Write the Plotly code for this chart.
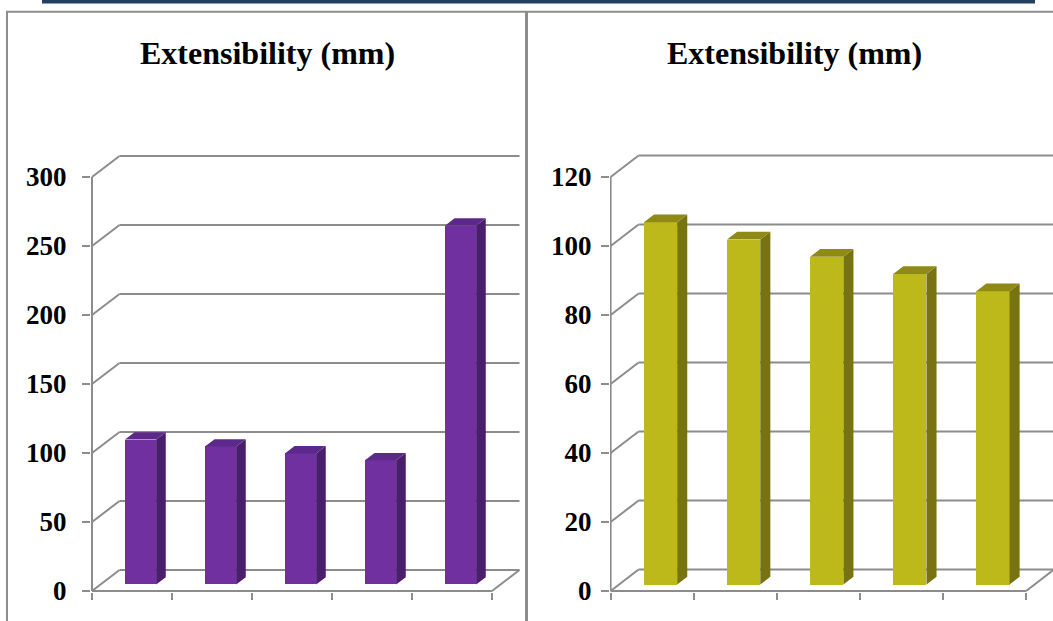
import plotly.graph_objects as go

# ---------------- data ----------------
categories = ["1", "2", "3", "4", "5"]
left_values = [105, 100, 95, 90, 260]
right_values = [105, 100, 95, 90, 85]
left_ticks = [0, 50, 100, 150, 200, 250, 300]
right_ticks = [0, 20, 40, 60, 80, 100, 120]
title_text = "Extensibility (mm)"

FW, FH = 1053, 621
GRID = "#8C8C8C"
SERIF = "Liberation Serif"

panels = [
    dict(values=left_values, ticks=left_ticks, x0=92.0, W=80.0, y0=591.0, S=1.38,
         DX=27.5, DY=21.0, dom=(91, 522), face="#7030A0", side="#4B1E6C", top="#5C2889",
         xa="x", ya="y", title_x=267, gap=10, d1=0.31, d2=0.66, bw=0.39),
    dict(values=right_values, ticks=right_ticks, x0=610.6, W=83.1, y0=591.0, S=3.45,
         DX=28.0, DY=21.5, dom=(610, 1053), face="#BEB91B", side="#777312", top="#8E8A15",
         xa="x2", ya="y2", title_x=794.5, gap=4, d1=0.30, d2=0.66, bw=0.40),
]

TOP_PX, BOT_PX = 150, 592

fig = go.Figure()
shapes = []
annotations = []
layout_axes = {}

for k, p in enumerate(panels):
    n = len(categories)
    dc = p["DX"] / p["W"]
    dv = p["DY"] / p["S"]
    xa, ya = p["xa"], p["ya"]
    line = dict(color=GRID, width=2)

    # back wall grid lines and side wall diagonals at every tick
    for v in p["ticks"]:
        shapes.append(dict(type="line", layer="below", xref=xa, yref=ya,
                           x0=dc, y0=v + dv, x1=n + dc, y1=v + dv, line=line))
        shapes.append(dict(type="line", layer="below", xref=xa, yref=ya,
                           x0=0, y0=v, x1=dc, y1=v + dv, line=line))
    # front value axis
    shapes.append(dict(type="line", layer="below", xref=xa, yref=ya,
                       x0=0, y0=0, x1=0, y1=max(p["ticks"]), line=line))
    # floor front edge and right edge
    shapes.append(dict(type="line", layer="below", xref=xa, yref=ya,
                       x0=0, y0=0, x1=n, y1=0, line=line))
    shapes.append(dict(type="line", layer="below", xref=xa, yref=ya,
                       x0=n, y0=0, x1=n + dc, y1=dv, line=line))

    d1, d2, bw = p["d1"], p["d2"], p["bw"]
    base = d1 * dv
    ddc = (d2 - d1) * dc
    ddv = (d2 - d1) * dv
    xs = [i + 0.5 + d1 * dc for i in range(n)]

    # front faces
    fig.add_trace(go.Bar(x=xs, y=p["values"], base=base, width=bw,
                         marker=dict(color=p["face"], line=dict(width=0)),
                         xaxis=xa, yaxis=ya, showlegend=False, hoverinfo="skip"))
    # side and top faces
    for xc, v in zip(xs, p["values"]):
        xl, xr = xc - bw / 2, xc + bw / 2
        top = base + v
        fig.add_trace(go.Scatter(
            x=[xr, xr + ddc, xr + ddc, xr, xr],
            y=[base, base + ddv, top + ddv, top, base],
            fill="toself", fillcolor=p["side"], mode="lines", line=dict(width=0, color=p["side"]),
            xaxis=xa, yaxis=ya, showlegend=False, hoverinfo="skip"))
        fig.add_trace(go.Scatter(
            x=[xl, xl + ddc, xr + ddc, xr, xl],
            y=[top, top + ddv, top + ddv, top, top],
            fill="toself", fillcolor=p["top"], mode="lines", line=dict(width=0, color=p["top"]),
            xaxis=xa, yaxis=ya, showlegend=False, hoverinfo="skip"))

    xr_lo = (p["dom"][0] - p["x0"]) / p["W"]
    xr_hi = (p["dom"][1] - p["x0"]) / p["W"]
    yr_lo = (p["y0"] - BOT_PX) / p["S"]
    yr_hi = (p["y0"] - TOP_PX) / p["S"]
    xname = "xaxis" if k == 0 else "xaxis2"
    yname = "yaxis" if k == 0 else "yaxis2"
    layout_axes[xname] = dict(
        domain=[p["dom"][0] / FW, min(1.0, p["dom"][1] / FW)], range=[xr_lo, xr_hi],
        anchor=ya, tickmode="array", tickvals=list(range(n + 1)), ticktext=[""] * (n + 1),
        ticks="outside", ticklen=7, tickwidth=2, tickcolor=GRID, automargin=False,
        showgrid=False, zeroline=False, showline=False, fixedrange=True)
    layout_axes[yname] = dict(
        domain=[1 - BOT_PX / FH, 1 - TOP_PX / FH], range=[yr_lo, yr_hi],
        anchor=xa, tickmode="array", tickvals=p["ticks"], ticktext=[str(t) for t in p["ticks"]],
        ticks="outside", ticklen=8, tickwidth=2, tickcolor=GRID, ticklabelstandoff=p["gap"],
        tickfont=dict(family=SERIF, size=27, color="black", weight="bold"), automargin=False,
        showgrid=False, zeroline=False, showline=False, fixedrange=True)

    annotations.append(dict(text=title_text, xref="paper", yref="paper",
                            x=p["title_x"] / FW, y=1 - 53 / FH, xanchor="center", yanchor="middle",
                            showarrow=False,
                            font=dict(family=SERIF, size=32, color="black", weight="bold")))

# page decorations (paper coordinates)
def px(x):
    return x / FW

def py(y):
    return 1 - y / FH

shapes.append(dict(type="rect", xref="paper", yref="paper", x0=px(42), x1=px(1035),
                   y0=py(3.5), y1=py(0), fillcolor="#243F60", line=dict(width=0), layer="above"))
shapes.append(dict(type="line", xref="paper", yref="paper", x0=px(6), x1=px(1053),
                   y0=py(11.8), y1=py(11.8), line=dict(color=GRID, width=2), layer="above"))
shapes.append(dict(type="line", xref="paper", yref="paper", x0=px(7), x1=px(7),
                   y0=py(11), y1=py(621), line=dict(color=GRID, width=2), layer="above"))
shapes.append(dict(type="line", xref="paper", yref="paper", x0=px(526.5), x1=px(526.5),
                   y0=py(11), y1=py(621), line=dict(color=GRID, width=3), layer="above"))

fig.update_layout(
    width=FW, height=FH, margin=dict(l=0, r=0, t=0, b=0, autoexpand=False),
    paper_bgcolor="white", plot_bgcolor="rgba(0,0,0,0)",
    barmode="overlay", showlegend=False, bargap=0,
    shapes=shapes, annotations=annotations, **layout_axes)

fig.write_html("out.html", config={"displayModeBar": False, "responsive": False},
               post_script="document.body.style.margin='0';document.body.style.overflow='hidden';")
